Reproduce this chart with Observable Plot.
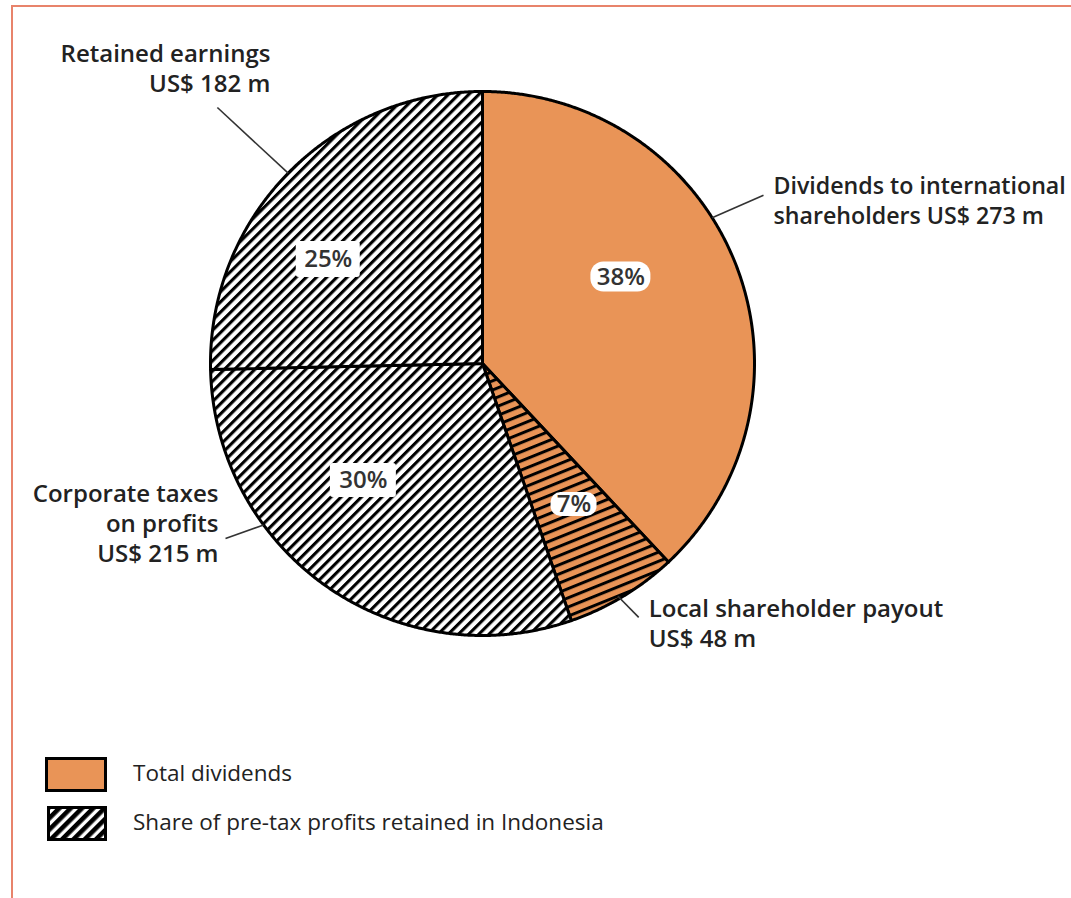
<!DOCTYPE html>
<html><head><meta charset="utf-8">
<script src="https://cdn.jsdelivr.net/npm/d3@7"></script>
<script src="https://cdn.jsdelivr.net/npm/@observablehq/plot@0.6"></script>
<style>
body{margin:0;background:#fff;}
#wrap{position:relative;width:1071px;height:898px;overflow:hidden;font-family:"Open Sans",sans-serif;}
#frame{position:absolute;left:11px;top:5px;right:-10px;bottom:-10px;border-top:2.5px solid #E8836B;border-left:2.5px solid #E8836B;pointer-events:none;}
#legend{position:absolute;left:45px;top:757px;}
.item{display:flex;align-items:center;height:35px;margin-bottom:14px;}
.item svg{display:block;}
.item span{font-size:22.5px;font-weight:500;color:#222;position:relative;top:-2px;}
</style></head><body><div id="wrap"><div id="chart"></div><div id="legend"></div><div id="frame"></div></div>
<script>
// ---- data ----
const categories = ["Dividends to international shareholders", "Local shareholder payout", "Corporate taxes on profits", "Retained earnings"];
const valuesUSDm = [273, 48, 215, 182];
const percentLabels = ["38%", "7%", "30%", "25%"];
const outerLabels = ["Dividends to international\nshareholders US$ 273 m", "Local shareholder payout\nUS$ 48 m", "Corporate taxes\non profits\nUS$ 215 m", "Retained earnings\nUS$ 182 m"];
const sliceGroup = ["dividends", "both", "retained", "retained"];
const legendLabels = ["Total dividends", "Share of pre-tax profits retained in Indonesia"];

// ---- styles / layout ----
const fills = {dividends: "#E99457", both: "url(#hatchOrange)", retained: "url(#hatch)"};
const R = 272, cx = 482, cy = 363, W = 1071, H = 700;
const pctLayout = [ // angle (deg), radius (fraction), box w, box h (px), corner
  {a: 58, r: 0.60, w: 60, h: 30, rx: 13},
  {a: 147, r: 0.618, w: 46, h: 24, rx: 10},
  {a: 225.5, r: 0.614, w: 66, h: 34, rx: 3},
  {a: 304, r: 0.684, w: 64, h: 36, rx: 3}
];
const leaderLayout = [ // start angle/radius, end angle/radius, text offset from end (px), anchor, font size
  {a0: 57.6, r0: 1.0, a1: 59.1, r1: 1.204, dx: 10, dy: 4, anchor: "start", fs: 23.2},
  {a0: 149.8, r0: 0.99, a1: 148.4, r1: 1.096, dx: 10, dy: 5, anchor: "start", fs: 24},
  {a0: 233.6, r0: 1.0, a1: 235.75, r1: 1.143, dx: -7, dy: -16, anchor: "end", fs: 24},
  {a0: 314.4, r0: 1.0, a1: 314, r1: 1.355, dx: 53, dy: -40, anchor: "end", fs: 24}
];

const rad = d => d * Math.PI / 180;
const polar = (a, r) => ({x: r * Math.sin(a), y: r * Math.cos(a)});

const arcs = d3.pie().sort(null).value(d => d)(valuesUSDm);
const slices = arcs.map((arc, i) => {
  const pts = [{x: 0, y: 0}];
  const n = Math.max(8, Math.ceil((arc.endAngle - arc.startAngle) / 0.005));
  for (let k = 0; k <= n; ++k) pts.push(polar(arc.startAngle + (arc.endAngle - arc.startAngle) * k / n, 1));
  pts.push({x: 0, y: 0});
  return {name: categories[i], fill: fills[sliceGroup[i]], pts};
});

const pct = percentLabels.map((t, i) => {
  const L = pctLayout[i], p = polar(rad(L.a), L.r);
  return {t, x: p.x, y: p.y, hw: L.w / 2 / R, hh: L.h / 2 / R, rx: L.rx};
});
const leaders = outerLabels.map((t, i) => {
  const L = leaderLayout[i], p0 = polar(rad(L.a0), L.r0), p1 = polar(rad(L.a1), L.r1);
  return {t, x1: p0.x, y1: p0.y, x2: p1.x, y2: p1.y, tx: p1.x + L.dx / R, ty: p1.y - L.dy / R, anchor: L.anchor, fs: L.fs};
});

const defs = () => {
  const d = d3.create("svg:defs");
  const mk = (id, size, lw, bg, fg, rot) => {
    const p = d.append("pattern").attr("id", id).attr("patternUnits", "userSpaceOnUse")
      .attr("width", size).attr("height", 20).attr("patternTransform", `rotate(${rot})`);
    p.append("rect").attr("width", size).attr("height", 20).attr("fill", bg);
    p.append("rect").attr("width", lw).attr("height", 20).attr("fill", fg);
  };
  mk("hatch", 7.2, 3.1, "white", "black", 45);
  mk("hatchOrange", 8.5, 3, "#E99457", "black", 68);
  mk("hatchLegend", 8, 4.6, "white", "black", 45);
  return d.node();
};

const marks = [defs];
slices.forEach(s => marks.push(Plot.line(s.pts, {x: "x", y: "y", fill: s.fill, stroke: "black", strokeWidth: 3, strokeLinejoin: "round"})));
marks.push(Plot.link(leaders, {x1: "x1", y1: "y1", x2: "x2", y2: "y2", stroke: "#333", strokeWidth: 1.6}));
pct.forEach(p => marks.push(Plot.rect([p], {x1: d => d.x - d.hw, x2: d => d.x + d.hw, y1: d => d.y - d.hh, y2: d => d.y + d.hh, fill: "white", rx: p.rx})));
marks.push(Plot.text(pct, {x: "x", y: "y", text: "t", fontSize: 24, fontWeight: 600, fontFamily: "Open Sans", fill: "#333"}));
leaders.forEach(l => marks.push(Plot.text([l], {
  x: "tx", y: "ty", text: "t", textAnchor: l.anchor, lineAnchor: "middle", lineHeight: 30 / l.fs,
  fontSize: l.fs, fontWeight: 600, fontFamily: "Open Sans", fill: "#222"
})));

const chart = Plot.plot({
  width: W, height: H, margin: 0,
  x: {domain: [-cx / R, (W - cx) / R], axis: null},
  y: {domain: [-(H - cy) / R, cy / R], axis: null},
  style: {background: "transparent"},
  marks
});
document.getElementById("chart").appendChild(chart);

// legend
const leg = document.getElementById("legend");
const swFill = ["#E99457", "url(#hatchLegend)"];
legendLabels.forEach((lab, i) => {
  const it = document.createElement("div");
  it.className = "item";
  const w = i === 0 ? 62 : 60;
  it.innerHTML = `<svg width="${w}" height="35" style="margin-left:${62 - w}px"><rect x="1.5" y="1.5" width="${w - 3}" height="32" fill="${swFill[i]}" stroke="black" stroke-width="3"/></svg><span style="margin-left:26px">${lab}</span>`;
  leg.appendChild(it);
});
</script></body></html>
